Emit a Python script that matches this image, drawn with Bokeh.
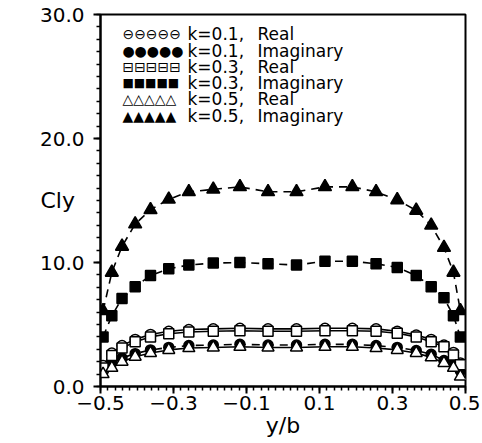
from bokeh.plotting import figure
from bokeh.models import FixedTicker, Label, Range1d
from bokeh.embed import file_html
from bokeh.resources import INLINE

# ---- data ----
y_over_b = [-0.493, -0.469, -0.441, -0.405, -0.363, -0.313, -0.258, -0.191, -0.118, -0.041,
            0.037, 0.115, 0.190, 0.255, 0.313, 0.365, 0.406, 0.441, 0.467, 0.486]

k01_real = [1.7, 2.7, 3.3, 3.8, 4.2, 4.45, 4.6, 4.65, 4.7, 4.65,
            4.65, 4.7, 4.7, 4.65, 4.45, 4.15, 3.8, 3.35, 2.75, 1.9]
k01_imag = [1.3, 1.9, 2.3, 2.65, 2.95, 3.15, 3.3, 3.35, 3.4, 3.35,
            3.35, 3.4, 3.4, 3.3, 3.15, 2.9, 2.6, 2.1, 1.8, 1.25]
k03_real = [1.5, 2.5, 3.1, 3.6, 4.0, 4.25, 4.4, 4.45, 4.5, 4.45,
            4.45, 4.5, 4.5, 4.45, 4.3, 4.0, 3.6, 3.2, 2.55, 1.75]
k03_imag = [4.0, 5.7, 7.1, 8.05, 8.95, 9.5, 9.8, 9.95, 10.0, 9.9,
            9.8, 10.1, 10.1, 9.9, 9.6, 8.95, 8.05, 7.15, 5.7, 4.0]
k05_real = [1.0, 1.5, 2.0, 2.4, 2.7, 2.95, 3.1, 3.15, 3.2, 3.15,
            3.15, 3.2, 3.2, 3.1, 2.95, 2.7, 2.35, 1.9, 1.5, 0.8]
k05_imag = [6.1, 9.2, 11.3, 13.1, 14.25, 15.1, 15.7, 15.9, 16.1, 15.7,
            15.7, 16.1, 16.1, 15.7, 15.05, 14.2, 13.0, 11.2, 9.2, 6.1]

x_ticks = [-0.5, -0.3, -0.1, 0.1, 0.3, 0.5]
x_tick_labels = ["\u22120.5", "\u22120.3", "\u22120.1", "0.1", "0.3", "0.5"]
y_ticks = [0, 10, 20, 30]
y_tick_labels = ["0.0", "10.0", "20.0", "30.0"]

legend_symbols = ["\u2296\u2296\u2296\u2296\u2296", "\u25cf\u25cf\u25cf\u25cf\u25cf",
                  "\u229f\u229f\u229f\u229f\u229f", "\u25a0\u25a0\u25a0\u25a0\u25a0",
                  "\u25b3\u25b3\u25b3\u25b3\u25b3", "\u25b2\u25b2\u25b2\u25b2\u25b2"]
legend_symbol_sizes = ["14px", "14px", "14px", "12px", "14px", "14px"]
legend_k = ["k=0.1,", "k=0.1,", "k=0.3,", "k=0.3,", "k=0.5,", "k=0.5,"]
legend_part = ["Real", "Imaginary", "Real", "Imaginary", "Real", "Imaginary"]

FONT = "DejaVu Sans"

p = figure(width=480, height=441, x_range=Range1d(-0.5, 0.5), y_range=Range1d(0, 30),
           output_backend="svg", toolbar_location=None,
           min_border_left=100, min_border_right=15, min_border_top=14,
           min_border_bottom=55)
p.xgrid.visible = False
p.ygrid.visible = False
p.outline_line_color = "black"
p.outline_line_width = 2
p.background_fill_color = "white"
p.border_fill_color = "white"

series = [
    (k01_real, "circle", 10, "white", "solid"),
    (k01_imag, "circle", 10, "black", "dashed"),
    (k03_real, "square", 10, "white", "solid"),
    (k03_imag, "square", 10, "black", "dashed"),
    (k05_real, "triangle", 12, "white", "solid"),
    (k05_imag, "triangle", 13, "black", "dashed"),
]
for vals, marker, size, fill, dash in series:
    p.line(y_over_b, vals, line_color="black", line_width=1.6,
           line_dash="solid" if dash == "solid" else "8 6")
for vals, marker, size, fill, dash in series:
    p.scatter(y_over_b, vals, marker=marker, size=size, fill_color=fill,
              line_color="black", line_width=1.5)

# axes
p.xaxis.ticker = FixedTicker(ticks=x_ticks,
                             minor_ticks=[round(-0.5 + 0.02 * i, 2) for i in range(51)])
p.xaxis.major_label_overrides = dict(zip(x_ticks, x_tick_labels))
p.yaxis.ticker = FixedTicker(ticks=y_ticks, minor_ticks=list(range(31)))
p.yaxis.major_label_overrides = dict(zip(y_ticks, y_tick_labels))
for ax in (p.xaxis, p.yaxis):
    ax.axis_line_width = 2
    ax.axis_line_color = "black"
    ax.major_tick_in = 0
    ax.major_tick_out = 7
    ax.minor_tick_in = 0
    ax.minor_tick_out = 4
    ax.major_tick_line_width = 2
    ax.minor_tick_line_width = 1.5
    ax.major_tick_line_color = "black"
    ax.minor_tick_line_color = "black"
    ax.major_label_text_font = FONT
    ax.major_label_text_font_size = "20px"
    ax.major_label_text_color = "black"
p.xaxis.major_label_standoff = 2
p.yaxis.major_label_standoff = 9
p.xaxis.axis_label = "y/b"
p.xaxis.axis_label_text_font = FONT
p.xaxis.axis_label_text_font_size = "22px"
p.xaxis.axis_label_text_font_style = "normal"
p.xaxis.axis_label_text_color = "black"
p.xaxis.axis_label_standoff = 0

p.yaxis.axis_label = "Cly"
p.yaxis.axis_label_orientation = "horizontal"
p.yaxis.axis_label_text_font = FONT
p.yaxis.axis_label_text_font_size = "22px"
p.yaxis.axis_label_text_font_style = "normal"
p.yaxis.axis_label_text_color = "black"
p.yaxis.axis_label_standoff = -38

# legend (drawn as text rows inside the frame, top-left)
row_y = [28.39, 27.06, 25.73, 24.44, 23.15, 21.85]
for sym, ss, kt, part, yy in zip(legend_symbols, legend_symbol_sizes, legend_k,
                                 legend_part, row_y):
    p.add_layout(Label(x=-0.44, y=yy, text=sym, text_font=FONT, text_font_size=ss,
                       text_baseline="middle", text_align="left", text_color="black"))
    p.add_layout(Label(x=-0.2616, y=yy, text=kt, text_font=FONT, text_font_size="17px",
                       text_baseline="middle", text_align="left", text_color="black"))
    p.add_layout(Label(x=-0.0699, y=yy, text=part, text_font=FONT, text_font_size="17px",
                       text_baseline="middle", text_align="left", text_color="black"))

open("out.html", "w").write(file_html(p, INLINE))
